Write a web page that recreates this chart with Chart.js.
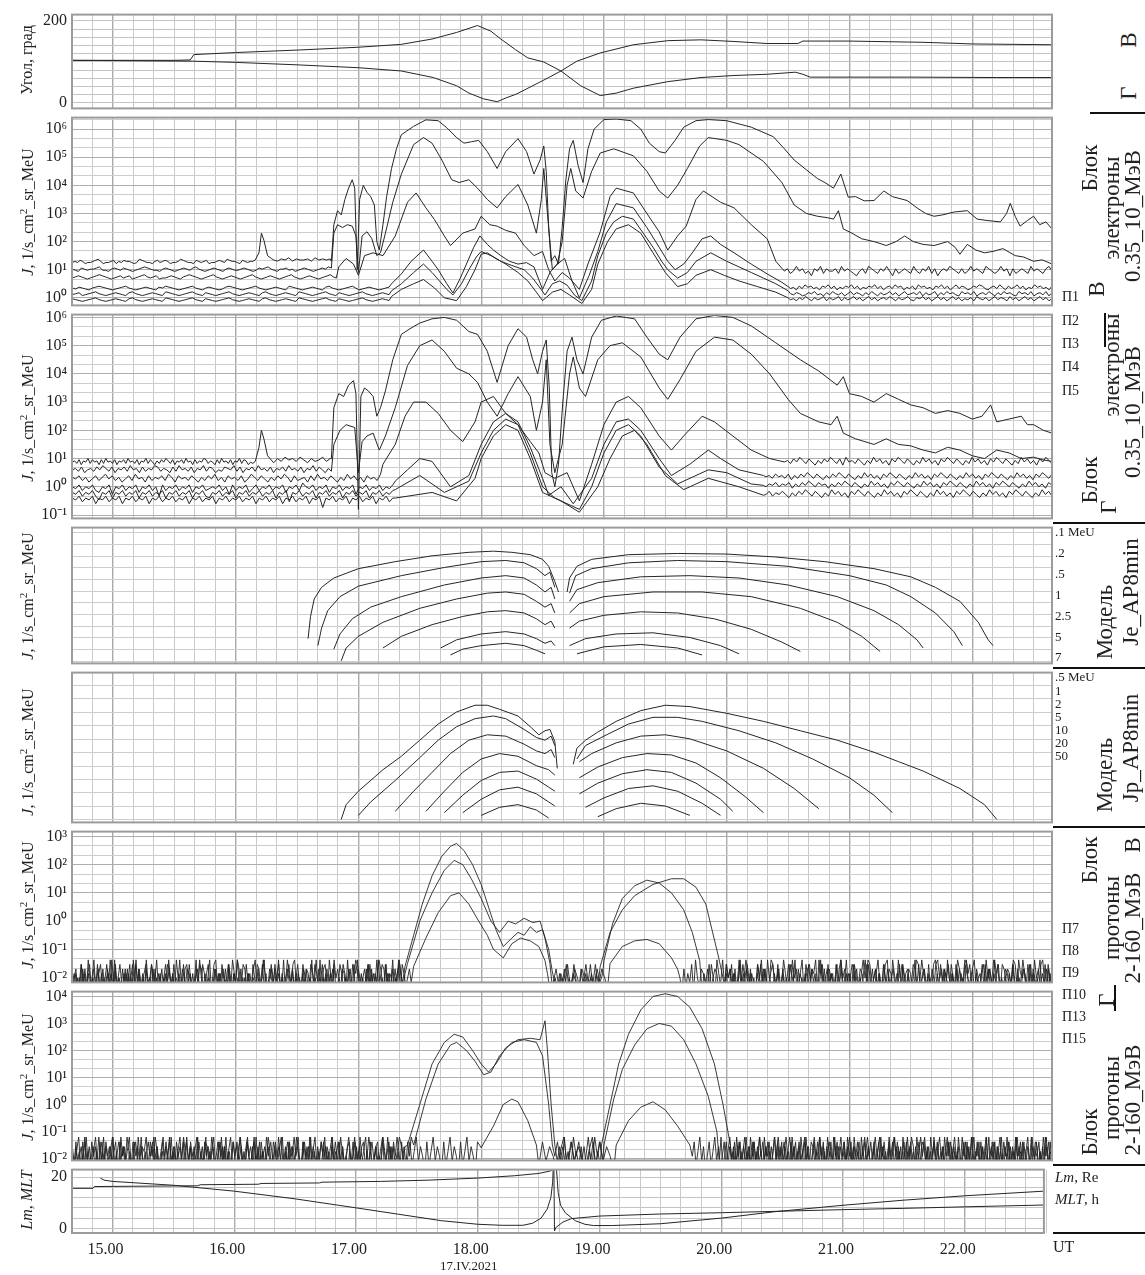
<!DOCTYPE html>
<html>
<head>
<meta charset="utf-8">
<script src="https://cdn.jsdelivr.net/npm/chart.js@4.4.1/dist/chart.umd.min.js"></script>
<style>
body { margin: 0; background: #fff; width: 1145px; height: 1275px; position: relative; overflow: hidden;
       font-family: "Liberation Serif", "Times New Roman", serif; color: #222; }
canvas { position: absolute; left: 0; }
.t { position: absolute; white-space: nowrap; line-height: 1; }
.r { transform: translate(-50%, -50%) rotate(-90deg); }
.big { font-size: 23px; }
.bar { position: absolute; background: #111; }
</style>
</head>
<body>
<script>
// ---- x range (UT hours) ----
const X_MIN = 14.667, X_MAX = 22.65;

// ---- panel 1: angles, degrees ----
const angB = [[14.67,104],[15.5,104],[15.63,105],[15.66,118],[16.0,123],[16.5,129],[17.0,136],[17.35,143],[17.6,156],[17.8,172],[17.97,189],[18.08,175],[18.16,156],[18.28,130],[18.38,110],[18.51,100],[18.65,78],[18.81,42],[18.97,18],[19.1,24],[19.24,36],[19.52,52],[19.79,62],[20.06,67],[20.33,70],[20.56,75],[20.62,70],[20.68,63],[21.5,63],[22.2,62],[22.65,62]];
const angG = [[14.67,104],[15.65,102],[16.0,99],[16.5,93],[17.0,86],[17.35,78],[17.61,62],[17.8,42],[17.9,24],[18.02,10],[18.13,3],[18.2,12],[18.29,22],[18.42,42],[18.55,62],[18.65,78],[18.78,102],[18.97,122],[19.24,142],[19.52,152],[19.79,154],[20.06,150],[20.33,145],[20.58,145],[20.62,151],[21.0,151],[21.6,148],[22.0,144],[22.65,142]];

// ---- panel 2: electrons, block В (log10 J); noise parts: t = [from, to], v = [lo, hi], digits 0..9 ----
const e2c1 = [
  { t: [14.67, 16.14], v: [1.1, 1.45], s: "45465344567534456354655434765443564565344576544365456344565476554365455" },
  [[16.16,1.35],[16.19,1.6],[16.21,2.3],[16.23,2.05],[16.26,1.5],[16.29,1.4]],
  { t: [16.31, 16.77], v: [1.15, 1.5], s: "5465746556475656" },
  [[16.78,1.3],[16.8,2.6],[16.83,3.1],[16.86,2.95],[16.89,3.5],[16.92,3.9],[16.95,4.2],[16.97,3.9],[16.99,1.0],[17.01,3.5],[17.04,4.0],[17.07,3.75],[17.1,3.6],[17.13,3.3],[17.15,2.0],[17.17,1.7],[17.2,2.6],[17.23,3.6],[17.27,4.6],[17.31,5.3],[17.35,5.8],[17.45,6.1],[17.55,6.33],[17.65,6.3],[17.72,6.05],[17.8,5.7],[17.86,5.5],[17.92,5.55],[17.98,5.6],[18.05,5.2],[18.13,4.6],[18.2,5.2],[18.3,5.66],[18.37,5.2],[18.43,4.4],[18.48,4.9],[18.51,5.4],[18.53,4.5],[18.55,2.5],[18.57,1.3],[18.6,1.5],[18.63,1.2],[18.66,2.5],[18.69,4.2],[18.72,5.3],[18.75,5.6],[18.79,4.7],[18.83,4.1],[18.87,5.3],[18.92,6.0],[19.0,6.34],[19.1,6.36],[19.22,6.3],[19.3,6.0],[19.37,5.5],[19.45,5.2],[19.5,5.15],[19.58,5.6],[19.65,6.07],[19.75,6.3],[19.85,6.34],[20.0,6.3],[20.2,6.07],[20.38,5.73],[20.47,5.3],[20.55,4.9],[20.65,4.55],[20.74,4.24],[20.8,4.1],[20.87,3.9],[20.93,4.4],[20.99,3.58],[21.05,3.6],[21.12,3.45],[21.2,3.46],[21.28,3.8],[21.35,3.6],[21.47,3.46],[21.55,3.2],[21.62,3.0],[21.69,2.9],[21.76,2.95],[21.85,3.05],[21.96,3.1],[22.04,2.8],[22.12,2.75],[22.23,2.7],[22.28,3.0],[22.31,3.36],[22.35,2.9],[22.39,2.55],[22.45,2.75],[22.5,2.9],[22.55,2.6],[22.6,2.7],[22.65,2.45]]
];
const e2c2 = [
  { t: [14.67, 16.78], v: [0.82, 1.18], s: "543654556744356546543456765443565434565467543456543565445654346567543556453456543456576" },
  [[16.8,2.3],[16.83,2.6],[16.87,2.5],[16.91,2.6],[16.95,2.55],[16.98,2.2],[17.0,0.9],[17.03,2.2],[17.07,2.35],[17.11,2.1],[17.15,1.5],[17.18,1.6],[17.22,2.3],[17.28,3.4],[17.35,4.4],[17.45,5.45],[17.53,5.7],[17.6,5.5],[17.68,4.9],[17.76,4.2],[17.82,4.1],[17.9,4.2],[17.97,3.9],[18.05,3.5],[18.13,3.2],[18.2,3.6],[18.3,4.03],[18.38,3.3],[18.45,2.3],[18.49,3.5],[18.51,4.6],[18.54,3.0],[18.58,1.0],[18.62,1.2],[18.66,2.0],[18.7,4.0],[18.73,4.6],[18.77,3.8],[18.83,3.55],[18.9,4.5],[18.97,5.15],[19.08,5.3],[19.24,5.05],[19.35,4.5],[19.45,3.8],[19.52,3.55],[19.6,4.0],[19.68,4.6],[19.78,5.4],[19.85,5.7],[20.0,5.6],[20.1,5.45],[20.3,4.85],[20.45,4.1],[20.55,3.3],[20.65,3.0],[20.74,2.9],[20.82,2.85],[20.87,2.8],[20.91,3.1],[20.95,2.45],[21.02,2.3],[21.1,2.1],[21.2,2.0],[21.3,1.86],[21.38,2.0],[21.45,2.2],[21.52,2.0],[21.6,1.9],[21.69,1.86],[21.8,2.0],[21.86,1.8],[21.9,1.55],[21.96,1.9],[22.03,1.7],[22.1,1.6],[22.17,1.65],[22.25,1.75],[22.35,1.5],[22.42,1.45],[22.5,1.3],[22.57,1.35],[22.65,1.2]]
];
const e2c3 = [
  { t: [14.67, 16.82], v: [0.55, 0.9], s: "45654345676543456456345675456344565435676543456754345654345675434565434567543456543456754" },
  [[16.84,1.1],[16.9,1.4],[16.96,1.2],[17.0,0.8],[17.05,1.5],[17.12,1.6],[17.2,1.5],[17.3,2.2],[17.4,3.4],[17.47,3.73],[17.55,3.2],[17.62,2.78],[17.7,2.2],[17.75,1.86],[17.85,2.3],[17.95,2.45],[18.0,2.9],[18.07,2.6],[18.13,2.55],[18.2,2.4],[18.28,2.3],[18.35,1.86],[18.43,1.5],[18.5,1.65],[18.55,1.0],[18.6,0.6],[18.66,0.9],[18.72,0.7],[18.8,0.3],[18.87,1.2],[18.97,2.35],[19.05,3.6],[19.1,3.9],[19.24,3.73],[19.35,3.0],[19.45,2.35],[19.52,1.7],[19.6,2.2],[19.67,2.55],[19.75,3.5],[19.81,3.8],[19.95,3.4],[20.06,3.2],[20.2,2.6],[20.33,2.1],[20.4,1.3],[20.45,1.05]],
  { t: [20.47, 22.65], v: [0.45, 1.2], s: "675686756476857667586765467587657686475676586576857467687657568676587656867475676586765786" }
];
const e2c4 = [
  { t: [14.67, 17.25], v: [0.18, 0.48], s: "546543567654345675434565436576543456754356543467654345675434565437654345654367543456753456543456" },
  [[17.27,0.5],[17.35,0.85],[17.43,1.3],[17.53,1.7],[17.6,1.3],[17.65,1.0],[17.72,0.5],[17.77,0.17],[17.83,0.7],[17.88,1.2],[17.94,1.8],[17.99,2.2],[18.05,1.9],[18.1,1.7],[18.16,1.5],[18.23,1.3],[18.3,1.2],[18.37,1.25],[18.43,1.1],[18.5,0.3],[18.56,0.9],[18.62,1.2],[18.68,1.4],[18.74,0.6],[18.8,0.0],[18.88,0.8],[18.95,1.65],[19.02,2.7],[19.1,3.35],[19.24,3.2],[19.35,2.5],[19.45,1.8],[19.52,1.3],[19.58,1.0],[19.65,1.2],[19.72,1.6],[19.8,2.1],[19.87,2.2],[19.95,1.9],[20.06,1.6],[20.2,1.2],[20.33,0.85],[20.45,0.55],[20.5,0.4]],
  { t: [20.52, 22.65], v: [0.15, 0.55], s: "4536475645365746354657463546574635647563546375645365746357465346576435647536457463547564536" }
];
const e2c5 = [
  { t: [14.67, 17.25], v: [-0.02, 0.28], s: "456345675434565436754345654376543456754365434567543456543675434565437654345675436543456754345654" },
  [[17.27,0.25],[17.35,0.5],[17.45,0.9],[17.53,1.2],[17.6,0.9],[17.65,0.65],[17.72,0.3],[17.77,0.1],[17.84,0.5],[17.9,1.0],[17.96,1.45],[18.0,1.65],[18.08,1.5],[18.16,1.3],[18.25,1.15],[18.35,1.0],[18.42,0.7],[18.48,0.35],[18.52,0.1],[18.58,0.5],[18.64,0.6],[18.7,0.45],[18.76,0.1],[18.82,-0.1],[18.9,0.6],[18.95,1.5],[19.02,2.3],[19.08,2.7],[19.15,2.9],[19.24,2.8],[19.32,2.3],[19.4,1.8],[19.47,1.3],[19.52,1.0],[19.6,0.7],[19.68,0.9],[19.75,1.3],[19.87,1.6],[20.0,1.3],[20.1,1.1],[20.2,0.9],[20.3,0.7],[20.4,0.5],[20.5,0.25]],
  { t: [20.52, 22.65], v: [-0.05, 0.3], s: "5465346574536475463574653647536457463574564736457364756437564735647536475643756473564736" }
];
const e2c6 = [
  { t: [14.67, 17.25], v: [-0.22, 0.06], s: "654345675434565436754345654376543456754365434567543456543675434565437654345675436543456754345654" },
  [[17.27,0.05],[17.35,0.3],[17.45,0.5],[17.53,0.65],[17.62,0.35],[17.7,0.0],[17.8,-0.1],[17.88,0.4],[17.95,1.0],[18.0,1.55],[18.05,1.6],[18.12,1.4],[18.2,1.2],[18.3,0.9],[18.38,0.6],[18.45,0.2],[18.5,-0.1],[18.58,0.2],[18.65,0.3],[18.72,0.1],[18.82,-0.2],[18.9,0.3],[18.95,1.2],[19.03,2.0],[19.1,2.45],[19.2,2.6],[19.3,2.3],[19.4,1.6],[19.5,0.9],[19.6,0.4],[19.68,0.5],[19.75,0.8],[19.87,1.0],[19.98,0.8],[20.1,0.6],[20.25,0.4],[20.4,0.2],[20.5,0.0]],
  { t: [20.52, 22.65], v: [-0.22, 0.12], s: "4536475364573645736457463574635647536457436574635746357463546375463574653746357463574635" }
];

// ---- panel 3: electrons, block Г (log10 J) ----
const e3c1 = [
  { t: [14.67, 16.14], v: [0.65, 1.05], s: "5647365847563748564736574856473658475364758647365748563746587465374856473658476354" },
  [[16.16,0.9],[16.19,1.4],[16.21,2.0],[16.23,1.7],[16.26,1.1],[16.29,0.95]],
  { t: [16.31, 16.77], v: [0.65, 1.1], s: "4758675864756857" },
  [[16.78,1.0],[16.8,2.8],[16.84,3.3],[16.88,3.2],[16.92,3.6],[16.96,3.76],[16.98,3.3],[17.0,-0.8],[17.02,3.2],[17.05,3.5],[17.08,3.4],[17.12,3.2],[17.15,2.5],[17.18,2.8],[17.22,3.4],[17.28,4.5],[17.35,5.4],[17.42,5.6],[17.5,5.8],[17.6,5.95],[17.7,6.0],[17.8,5.9],[17.9,5.5],[17.97,5.4],[18.05,4.8],[18.13,3.7],[18.22,5.0],[18.3,5.6],[18.37,5.3],[18.42,4.5],[18.46,4.0],[18.5,4.8],[18.53,5.2],[18.555,3.5],[18.575,0.5],[18.6,0.0],[18.63,0.8],[18.665,3.0],[18.7,4.8],[18.74,5.3],[18.78,4.5],[18.83,4.0],[18.9,5.3],[18.98,5.9],[19.1,6.05],[19.25,5.95],[19.35,5.3],[19.45,4.7],[19.52,4.5],[19.62,5.3],[19.75,5.95],[19.9,6.07],[20.05,6.0],[20.2,5.7],[20.4,5.1],[20.6,4.5],[20.75,4.1],[20.9,3.6],[20.95,3.9],[21.0,3.3],[21.1,3.2],[21.2,3.0],[21.3,3.3],[21.4,3.1],[21.5,2.9],[21.6,2.8],[21.7,2.6],[21.8,2.7],[21.9,2.6],[22.0,2.4],[22.08,2.5],[22.15,2.9],[22.2,2.3],[22.3,2.4],[22.4,2.5],[22.45,2.2],[22.5,2.2],[22.58,2.0],[22.65,1.9]]
];
const e3c2 = [
  { t: [14.67, 16.78], v: [0.35, 0.8], s: "56473564758647365748563746587465374856473658476354765847365748564736574856473658475364" },
  [[16.8,1.5],[16.85,2.0],[16.9,2.2],[16.97,2.1],[17.0,0.5],[17.03,1.6],[17.07,1.8],[17.12,1.9],[17.17,1.3],[17.22,1.8],[17.3,2.8],[17.4,4.3],[17.5,5.0],[17.6,5.2],[17.7,4.8],[17.8,4.2],[17.9,4.0],[17.97,3.7],[18.05,3.0],[18.13,2.5],[18.22,3.3],[18.3,3.9],[18.4,3.2],[18.45,2.0],[18.5,3.0],[18.53,4.5],[18.56,1.5],[18.6,0.5],[18.66,1.5],[18.72,4.0],[18.75,4.6],[18.8,3.5],[18.85,3.2],[18.95,4.5],[19.05,5.0],[19.15,5.1],[19.3,4.6],[19.45,3.5],[19.52,3.1],[19.62,3.8],[19.75,4.8],[19.9,5.3],[20.05,5.2],[20.2,4.7],[20.35,4.0],[20.5,3.1],[20.6,2.6],[20.75,2.3],[20.85,2.2],[20.9,2.5],[20.95,1.9],[21.05,1.7],[21.2,1.5],[21.3,1.7],[21.4,1.5],[21.5,1.45],[21.6,1.3],[21.7,1.2],[21.8,1.4],[21.9,1.3],[22.0,1.1],[22.1,1.0],[22.2,1.3],[22.3,1.2],[22.4,1.0],[22.5,1.05],[22.58,0.95],[22.65,0.9]]
];
const e3c3 = [
  { t: [14.67, 17.18], v: [0.0, 0.5], s: "6574635746857463574856374657486375647536475846375647358647536475863745637485647536485746375648" },
  [[17.2,0.8],[17.3,1.5],[17.38,2.5],[17.45,3.0],[17.55,3.0],[17.65,2.6],[17.75,2.0],[17.85,1.6],[17.95,2.3],[18.0,3.0],[18.1,3.2],[18.2,2.6],[18.3,2.2],[18.4,1.6],[18.47,1.2],[18.52,0.5],[18.6,0.3],[18.7,0.5],[18.8,-0.5],[18.9,0.8],[19.0,2.2],[19.1,3.0],[19.2,3.2],[19.3,2.8],[19.45,1.8],[19.55,1.3],[19.65,1.8],[19.8,2.5],[19.9,2.3],[20.05,1.8],[20.2,1.3],[20.35,1.0],[20.45,0.9]],
  { t: [20.47, 22.65], v: [0.6, 1.1], s: "5647586475364758647385647536485746375864753648574637586475364857463758647536485746375864" }
];
const e3c4 = [
  { t: [14.67, 17.28], v: [-0.4, 0.2], s: "6574657436572657465736574617465746573657456574627465735746574657365748657465736574657265746574657" },
  [[17.3,0.2],[17.4,0.6],[17.5,1.0],[17.6,0.9],[17.75,0.0],[17.9,0.4],[18.0,1.5],[18.1,2.3],[18.2,2.6],[18.3,2.3],[18.4,1.4],[18.5,0.3],[18.55,-0.3],[18.65,0.0],[18.75,-0.6],[18.9,0.3],[19.0,1.5],[19.1,2.3],[19.2,2.4],[19.3,2.0],[19.45,1.0],[19.55,0.4],[19.7,0.8],[19.85,1.3],[19.95,1.0],[20.1,0.6],[20.3,0.4]],
  { t: [20.32, 22.65], v: [0.1, 0.55], s: "5647564736475864753647586475364857463758647536485746375864753648574637586475364857463758647" }
];
const e3c5 = [
  { t: [14.67, 17.28], v: [-0.6, 0.0], s: "6574657426573657465736574657365746573657436574657365746574657365716574657365746573657465736574657" },
  [[17.3,-0.1],[17.5,0.4],[17.7,-0.2],[17.9,0.2],[18.0,1.2],[18.1,2.0],[18.2,2.4],[18.3,2.2],[18.4,1.2],[18.5,0.0],[18.6,-0.4],[18.8,-0.8],[18.9,0.0],[19.0,1.2],[19.1,2.0],[19.2,2.2],[19.3,1.8],[19.45,0.7],[19.6,0.1],[19.85,0.6],[20.0,0.5],[20.2,0.1],[20.3,0.05]],
  { t: [20.32, 22.65], v: [-0.2, 0.25], s: "4657465736475864756364758647536485746375864753648574637586475364857463758647536485746375" }
];
const e3c6 = [
  { t: [14.67, 17.28], v: [-0.8, -0.2], s: "6574657365746573657465736574657465736574657365746574657365746573657465736571657465736574657365746" },
  [[17.3,-0.4],[17.6,-0.2],[17.8,-0.5],[17.95,0.3],[18.0,1.0],[18.1,1.8],[18.2,2.2],[18.3,2.0],[18.4,1.0],[18.5,-0.2],[18.65,-0.5],[18.8,-0.9],[18.95,0.0],[19.05,1.0],[19.15,1.8],[19.25,2.0],[19.35,1.5],[19.5,0.4],[19.65,-0.1],[19.85,0.3],[20.1,0.0],[20.3,-0.3]],
  { t: [20.32, 22.65], v: [-0.55, -0.05], s: "5746575364758647536485746375864753648574637586475364857463758647536485746375864753648574" }
];

// ---- panel 4: model Je_AP8min (log10 J), null = gap ----
const je01 = [[16.59,1.6],[16.61,3.5],[16.64,5.0],[16.7,6.0],[16.8,6.8],[17.0,7.6],[17.3,8.2],[17.6,8.7],[17.9,9.0],[18.1,9.1],[18.25,9.0],[18.4,8.8],[18.5,8.4],[18.55,7.8],[18.6,6.5],[18.63,5.6],null,[18.7,5.6],[18.72,6.8],[18.78,7.8],[18.9,8.4],[19.2,8.8],[19.6,8.9],[20.0,8.85],[20.4,8.6],[20.8,8.2],[21.2,7.6],[21.5,6.9],[21.7,6.0],[21.9,4.8],[22.05,3.0],[22.13,1.5],[22.17,1.0]];
const je02 = [[16.67,1.0],[16.7,2.5],[16.75,4.0],[16.85,5.2],[17.0,6.1],[17.35,7.0],[17.7,7.7],[18.0,8.2],[18.2,8.3],[18.35,8.1],[18.45,7.6],[18.52,7.0],[18.56,7.3],[18.6,6.0],null,[18.72,5.5],[18.77,7.0],[18.9,7.6],[19.2,8.1],[19.6,8.3],[20.0,8.2],[20.5,7.8],[21.0,7.0],[21.3,6.2],[21.5,5.2],[21.7,3.8],[21.85,2.2],[21.92,1.0]];
const je05 = [[16.8,0.7],[16.85,2.0],[16.95,3.3],[17.1,4.3],[17.35,5.2],[17.7,6.2],[18.0,6.8],[18.2,7.0],[18.35,6.8],[18.45,6.2],[18.52,5.6],[18.57,6.0],[18.6,5.0],null,[18.72,4.8],[18.78,5.8],[18.95,6.4],[19.3,6.9],[19.7,7.0],[20.1,6.8],[20.5,6.2],[20.9,5.2],[21.2,4.0],[21.4,2.8],[21.55,1.5],[21.6,0.8]];
const je1 = [[16.86,-0.3],[16.9,0.8],[17.0,1.8],[17.2,3.0],[17.5,4.2],[17.8,5.0],[18.05,5.5],[18.2,5.6],[18.35,5.4],[18.45,4.8],[18.52,4.3],[18.57,4.6],[18.6,3.8],null,[18.72,3.8],[18.8,4.6],[19.0,5.2],[19.4,5.6],[19.8,5.6],[20.2,5.2],[20.6,4.2],[20.9,3.0],[21.1,1.8],[21.25,0.5]];
const je25 = [[17.2,0.8],[17.35,1.8],[17.6,2.8],[17.85,3.5],[18.05,3.9],[18.2,4.0],[18.35,3.8],[18.45,3.3],[18.52,2.8],[18.57,3.1],[18.6,2.5],null,[18.72,2.5],[18.8,3.1],[19.0,3.6],[19.3,3.9],[19.6,3.8],[19.9,3.3],[20.2,2.4],[20.45,1.3],[20.6,0.5]];
const je5 = [[17.67,0.8],[17.8,1.5],[18.0,2.0],[18.2,2.2],[18.35,2.0],[18.45,1.6],[18.52,1.2],[18.57,1.4],[18.6,1.0],null,[18.72,1.0],[18.85,1.6],[19.1,2.0],[19.4,2.1],[19.7,1.7],[19.95,1.0],[20.1,0.3]];
const je7 = [[17.75,0.2],[17.85,0.7],[18.0,1.0],[18.2,1.2],[18.35,1.0],[18.45,0.6],[18.52,0.3],null,[18.78,0.3],[19.0,0.9],[19.3,1.1],[19.6,0.8],[19.8,0.2]];

// ---- panel 5: model Jp_AP8min (log10 J) ----
const jp05 = [[16.86,-0.3],[16.9,0.8],[17.0,1.8],[17.2,3.4],[17.35,4.4],[17.5,5.6],[17.65,6.8],[17.8,7.7],[17.95,8.2],[18.05,8.2],[18.15,7.9],[18.3,7.4],[18.4,6.6],[18.47,6.0],[18.52,6.3],[18.56,6.4],[18.6,5.5],[18.62,3.5],null,[18.75,3.8],[18.78,5.0],[18.85,5.6],[18.95,6.2],[19.1,7.0],[19.3,7.8],[19.5,8.2],[19.7,8.1],[20.0,7.6],[20.3,7.0],[20.6,6.3],[20.9,5.6],[21.2,4.7],[21.4,4.0],[21.6,3.3],[21.9,2.0],[22.1,0.8],[22.2,-0.3]];
const jp1 = [[17.0,0.0],[17.1,1.0],[17.3,2.6],[17.5,4.3],[17.65,5.6],[17.8,6.6],[17.95,7.2],[18.1,7.4],[18.2,7.2],[18.35,6.4],[18.45,5.8],[18.52,5.6],[18.57,5.9],[18.6,5.2],null,[18.78,4.2],[18.85,5.2],[19.0,5.9],[19.2,6.8],[19.4,7.3],[19.6,7.3],[19.8,7.0],[20.1,6.3],[20.4,5.4],[20.7,4.2],[21.0,2.8],[21.2,1.5],[21.35,0.2]];
const jp2 = [[17.3,0.3],[17.45,1.8],[17.6,3.2],[17.75,4.6],[17.9,5.6],[18.05,6.0],[18.2,5.9],[18.35,5.3],[18.45,4.8],[18.52,4.6],[18.57,4.9],[18.6,4.3],null,[18.8,4.0],[18.9,4.6],[19.1,5.4],[19.3,5.9],[19.5,6.0],[19.7,5.7],[20.0,4.8],[20.3,3.5],[20.55,2.0],[20.75,0.5]];
const jp5 = [[17.55,0.3],[17.7,1.8],[17.85,3.2],[18.0,4.2],[18.15,4.6],[18.3,4.4],[18.45,3.7],[18.55,3.4],[18.6,3.0],null,[18.8,2.8],[18.95,3.6],[19.15,4.3],[19.35,4.6],[19.55,4.5],[19.75,3.9],[19.95,2.8],[20.15,1.4],[20.3,0.2]];
const jp10 = [[17.7,0.2],[17.85,1.5],[18.0,2.6],[18.15,3.2],[18.3,3.3],[18.45,2.7],[18.55,2.1],[18.6,1.8],null,[18.8,1.6],[18.95,2.4],[19.15,3.1],[19.35,3.4],[19.55,3.2],[19.75,2.4],[19.95,1.2],[20.05,0.3]];
const jp20 = [[17.85,0.2],[18.0,1.2],[18.15,1.9],[18.3,2.1],[18.45,1.6],[18.55,1.0],[18.6,0.7],null,[18.85,0.6],[19.0,1.3],[19.2,2.0],[19.4,2.2],[19.6,1.8],[19.8,0.9],[19.95,0.0]];
const jp50 = [[18.0,0.0],[18.15,0.6],[18.3,0.8],[18.45,0.4],[18.55,-0.2],null,[18.95,-0.1],[19.1,0.5],[19.3,0.9],[19.5,0.7],[19.7,0.0]];

// ---- panel 6: protons, block В (log10 J) ----
const p7 = [
  { t: [14.67, 17.36], v: [-2.5, -1.05], s: "2140315204613025140361720513204150362714031520641302514073162041530261405273104612053140251630427150314206315027401352046130274150362140513206417032514062031540721630514023615042703162405130742" },
  [[17.38,-1.6],[17.45,-0.5],[17.52,0.6],[17.6,1.6],[17.68,2.3],[17.75,2.65],[17.8,2.75],[17.86,2.5],[17.93,2.0],[18.0,1.3],[18.06,0.5],[18.12,-0.3],[18.18,-0.9],[18.25,-0.6],[18.3,-0.4],[18.35,-0.5],[18.4,-0.2],[18.45,-0.4],[18.5,-0.3],[18.55,-1.0],[18.58,-1.8]],
  { t: [18.6, 18.95], v: [-2.5, -1.05], s: "2041503162051403261" },
  [[18.97,-1.6],[19.05,-0.4],[19.15,0.4],[19.25,0.9],[19.4,1.3],[19.55,1.5],[19.65,1.5],[19.75,1.2],[19.83,0.6],[19.88,-0.3],[19.93,-1.2],[19.96,-1.8]],
  { t: [19.97, 22.65], v: [-2.5, -1.05], s: "3140261503724160513042615073204160251306427150314062513074602153406125037140625130471620351402615307412605314026510374206153041625073140625130746120534106251374021653041620513740261530471260513" }
];
const p8 = [
  { t: [14.67, 17.38], v: [-2.5, -1.05], s: "1350261407315204613052417036215041306251407236150421306514032710562401352064137025140632051740321650412306514702361504217036251403162540713052614073502164031520647103526140271365041270356214" },
  [[17.4,-1.5],[17.5,0.0],[17.6,1.0],[17.7,1.8],[17.78,2.15],[17.85,2.0],[17.92,1.5],[18.0,0.8],[18.08,0.0],[18.15,-0.4],[18.22,0.0],[18.28,-0.1],[18.35,0.1],[18.42,-0.05],[18.48,0.0],[18.52,-0.6],[18.56,-1.5]],
  { t: [18.58, 18.99], v: [-2.5, -1.05], s: "1304260153026140524" },
  [[19.0,-1.4],[19.07,-0.1],[19.15,0.8],[19.25,1.25],[19.35,1.45],[19.45,1.35],[19.55,1.0],[19.65,0.4],[19.72,-0.4],[19.78,-1.4]],
  { t: [19.8, 22.65], v: [-2.5, -1.05], s: "0425163074120635140271635041206371520463150274136502147035612403715062413057214036512047361250472163054120736145203716045213067410253614027531642057130462153074612035416207435162041306725140" }
];
const p9 = [
  { t: [14.67, 17.43], v: [-2.5, -1.05], s: "2413062514037162051340726130514260731502461305271403625140732061543027165041302671405236104275130624157032614053162704135206714025310642713056204173520641350276413052614037521604315270641352" },
  [[17.45,-1.6],[17.55,-0.6],[17.65,0.3],[17.75,0.9],[17.82,1.0],[17.9,0.6],[17.98,0.0],[18.05,-0.5],[18.1,-1.0],[18.18,-1.3],[18.25,-0.8],[18.32,-0.6],[18.4,-0.7],[18.47,-0.9],[18.52,-1.4]],
  { t: [18.54, 19.03], v: [-2.5, -1.05], s: "4025130614205316042531" },
  [[19.05,-1.5],[19.15,-0.9],[19.25,-0.7],[19.35,-0.65],[19.45,-0.8],[19.55,-1.3],[19.6,-1.7]],
  { t: [19.62, 22.65], v: [-2.5, -1.05], s: "3051426073154206135402716350412603751420631540276135041260735142063154702613504126073514206315402761350412670351420631540276135041206735142063150427613504126073514260315402761305412607351420631" }
];

// ---- panel 7: protons, block Г (log10 J) ----
const p10 = [
  { t: [14.67, 17.38], v: [-2.45, -0.85], s: "3152406172035140627103524601735204162073514026370512406317250413607251402635170425136072514036215704263150726041352064173025160473520614072531402615307241605130426150732041602513064271503140625" },
  [[17.4,-1.5],[17.5,0.0],[17.6,1.5],[17.7,2.3],[17.78,2.6],[17.85,2.5],[17.93,2.0],[18.0,1.5],[18.06,1.2],[18.12,1.5],[18.2,2.1],[18.3,2.4],[18.4,2.45],[18.48,2.4],[18.52,3.1],[18.54,2.0],[18.57,0.0],[18.6,-1.5]],
  { t: [18.62, 18.97], v: [-2.45, -0.85], s: "2517036241503726141" },
  [[18.98,-1.5],[19.05,0.0],[19.12,1.5],[19.2,2.6],[19.3,3.5],[19.4,4.0],[19.5,4.1],[19.6,4.0],[19.7,3.6],[19.8,2.8],[19.9,1.5],[19.97,0.0],[20.03,-1.5]],
  { t: [20.05, 22.65], v: [-2.45, -0.85], s: "0625140372516041736250413726051473062514073625104736251407362051473625041736205147362504173620514736250417362051473625041736205147362514027361504726315042716305142637150427361540217365041273615" }
];
const p13 = [
  { t: [14.67, 17.43], v: [-2.45, -0.85], s: "4061352704163527140635271406352740163527104635274016352714063527401635271406352740163527140635274016352714063527401635271406352740163527140526371405263174025613704256137402561374025163740251637" },
  [[17.45,-1.5],[17.55,0.2],[17.65,1.5],[17.75,2.2],[17.8,2.3],[17.88,2.0],[17.95,1.6],[18.02,1.1],[18.08,1.2],[18.15,1.8],[18.25,2.3],[18.35,2.4],[18.45,2.3],[18.5,1.8],[18.55,0.0],[18.58,-1.5]],
  { t: [18.6, 18.99], v: [-2.45, -0.85], s: "3625140736250417362" },
  [[19.0,-1.5],[19.08,0.2],[19.15,1.3],[19.25,2.2],[19.35,2.8],[19.45,3.0],[19.55,2.9],[19.65,2.4],[19.75,1.5],[19.85,0.3],[19.92,-1.0]],
  { t: [19.94, 22.65], v: [-2.45, -0.85], s: "2703615240736152407361524073615204736152407361524073165240736152407361524073615240736152047361524073615240736152407316524073615240736152407315260471352604713526047135260417352604713526041735260" }
];
const p15 = [
  { t: [14.67, 17.97], v: [-2.45, -0.85], s: "5147036251470362514703625147036215470362514703625147036251470326514703625147036251470362514073625147036251470362514703625147036251470362514703625147036251475203614725306147253061472530614725306" },
  [[18.0,-1.6],[18.1,-0.8],[18.18,0.0],[18.25,0.2],[18.3,0.1],[18.38,-0.6],[18.45,-1.5]],
  { t: [18.47, 19.08], v: [-2.45, -0.85], s: "1625304716253047162530" },
  [[19.1,-1.5],[19.2,-0.6],[19.3,-0.1],[19.4,0.1],[19.5,-0.2],[19.6,-0.8],[19.7,-1.5]],
  { t: [19.72, 22.65], v: [-2.45, -0.85], s: "3614725036147250361472503614725036147205361472503614725036147250361472503641725036147250361472503614725036147250361427503614725036147250361472503615270436152704361527043615270436152704361527043" }
];

// ---- panel 8: Lm (Re) and MLT (h) ----
const lmCurve = [[14.9,19.6],[14.93,18.8],[15.0,18.3],[15.5,16.8],[16.0,14.5],[16.5,11.5],[17.0,8.0],[17.35,5.5],[17.7,3.0],[18.0,1.6],[18.2,1.2],[18.37,1.2],[18.45,2.0],[18.52,4.0],[18.57,7.5],[18.6,12.0],[18.615,18.0],[18.62,24.0],null,[18.645,24.0],[18.66,14.0],[18.68,9.0],[18.72,6.0],[18.8,3.0],[18.88,1.6],[18.95,1.1],[19.1,1.1],[19.5,1.8],[20.0,4.0],[20.44,6.5],[21.0,9.0],[21.5,11.0],[22.0,12.7],[22.65,14.5]];
const mltCurve = [[14.67,15.6],[14.84,15.6],[14.85,16.3],[15.7,16.6],[15.72,17.0],[16.2,17.2],[16.22,17.5],[16.7,17.7],[16.72,18.0],[17.2,18.3],[17.6,18.8],[18.0,19.6],[18.3,20.5],[18.5,21.4],[18.6,22.4],[18.625,23.5],[18.63,-1.0],[18.64,0.3],[18.7,2.5],[18.77,3.8],[19.0,4.8],[19.5,5.6],[20.0,6.1],[20.5,6.7],[21.0,7.3],[21.5,7.8],[22.0,8.4],[22.65,9.1]];

// ---- build helpers ----
function build(parts, isLog) {
  const out = [];
  const conv = v => isLog ? Math.pow(10, v) : v;
  const pushPt = p => {
    if (p === null) { out.push({ x: out[out.length - 1].x + 0.001, y: null }); return; }
    out.push({ x: p[0], y: conv(p[1]) });
  };
  parts.forEach(part => {
    if (part === null || Array.isArray(part) && typeof part[0] === 'number') { pushPt(part); return; }
    if (Array.isArray(part)) { part.forEach(pushPt); return; }
    const n = part.s.length;
    for (let i = 0; i < n; i++) {
      const t = part.t[0] + (part.t[1] - part.t[0]) * i / (n - 1);
      const v = part.v[0] + (part.v[1] - part.v[0]) * (+part.s[i]) / 9;
      out.push({ x: t, y: conv(v) });
    }
  });
  return out;
}

const SUP = { '-': '\u207B', '0': '\u2070', '1': '\u00B9', '2': '\u00B2', '3': '\u00B3', '4': '\u2074', '5': '\u2075', '6': '\u2076', '7': '\u2077', '8': '\u2078', '9': '\u2079' };
const sup = n => String(n).split('').map(c => SUP[c]).join('');

const PANELS = [
  { top: 10, bottom: 113, log: false, min: -13.3, max: 215.6, gridStep: 20, gridFrom: -20, labels: [0, 200], series: [angB, angG] },
  { top: 113, bottom: 310, log: true, min: -0.27, max: 6.41, gridStep: 1 / 3, labels: [0, 1, 2, 3, 4, 5, 6], series: [e2c1, e2c2, e2c3, e2c4, e2c5, e2c6] },
  { top: 310, bottom: 523, log: true, min: -1.12, max: 6.1, gridStep: 1 / 3, labels: [-1, 0, 1, 2, 3, 4, 5, 6], series: [e3c1, e3c2, e3c3, e3c4, e3c5, e3c6] },
  { top: 523, bottom: 668, log: true, min: -0.48, max: 11.12, gridStep: 1, labels: [0, 5, 10], series: [je01, je02, je05, je1, je25, je5, je7] },
  { top: 668, bottom: 827, log: true, min: -0.49, max: 10.63, gridStep: 1, labels: [0, 5, 10], series: [jp05, jp1, jp2, jp5, jp10, jp20, jp50] },
  { top: 827, bottom: 987, log: true, min: -2.17, max: 3.17, gridStep: 1 / 3, labels: [-2, -1, 0, 1, 2, 3], series: [p7, p8, p9], lw: 0.9 },
  { top: 987, bottom: 1165, log: true, min: -2.07, max: 4.18, gridStep: 1 / 3, labels: [-2, -1, 0, 1, 2, 3, 4], series: [p10, p13, p15], lw: 0.9 },
  { top: 1165, bottom: 1233, log: false, min: -1.8, max: 22.9, gridStep: 4, gridFrom: 0, labels: [0, 20], series: [lmCurve, mltCurve], last: true }
];

const xGrid = [];
for (let k = 0; k <= 48; k++) xGrid.push(X_MIN + k / 6);
const isHour = v => Math.abs(v - Math.round(v)) < 1e-3;

const frame = {
  id: 'frame',
  afterDraw(chart) {
    const a = chart.chartArea, c = chart.ctx;
    c.save();
    c.strokeStyle = '#9c9c9c';
    c.lineWidth = 2;
    c.strokeRect(a.left, a.top, a.right - a.left, a.bottom - a.top);
    c.restore();
  }
};

PANELS.forEach(p => {
  const padTop = 10, axisH = p.last ? 40 : 0, padBot = p.last ? 0 : 10;
  const cv = document.createElement('canvas');
  cv.width = 1053;
  cv.height = (p.bottom - p.top) + padTop + padBot + axisH;
  cv.style.top = (p.top - padTop) + 'px';
  document.body.appendChild(cv);

  const yGrid = [];
  if (p.log) {
    for (let e = Math.ceil(p.min * 3) / 3; e <= p.max + 1e-9; e += p.gridStep) yGrid.push(Math.pow(10, e));
  } else {
    for (let v = p.gridFrom; v <= p.max; v += p.gridStep) if (v >= p.min) yGrid.push(v);
  }

  new Chart(cv, {
    type: 'line',
    data: {
      datasets: p.series.map(s => ({
        data: build(s, p.log),
        borderColor: '#262626',
        borderWidth: p.lw || 1,
        pointRadius: 0,
        tension: 0,
        fill: false,
        spanGaps: false
      }))
    },
    options: {
      responsive: false,
      animation: false,
      events: [],
      layout: { padding: { left: 0, right: 1, top: padTop, bottom: padBot } },
      plugins: { legend: { display: false }, tooltip: { enabled: false } },
      scales: {
        x: {
          type: 'linear', min: X_MIN, max: X_MAX,
          afterBuildTicks: s => { s.ticks = xGrid.map(v => ({ value: v })); },
          afterFit: s => { s.height = axisH; },
          ticks: {
            display: !!p.last, autoSkip: false, maxRotation: 0, padding: 7, labelOffset: -7,
            color: '#222', font: { family: 'Liberation Serif', size: 16 },
            callback: v => (p.last && isHour(v)) ? Math.round(v) + '.00' : ''
          },
          grid: {
            drawTicks: false,
            color: c => (c.tick && isHour(c.tick.value)) ? '#a9a9a9' : '#c9c9c9',
            lineWidth: c => (c.tick && isHour(c.tick.value)) ? 1.4 : 1
          },
          border: { display: false }
        },
        y: {
          type: p.log ? 'logarithmic' : 'linear',
          min: p.log ? Math.pow(10, p.min) : p.min,
          max: p.log ? Math.pow(10, p.max) : p.max,
          afterBuildTicks: s => { s.ticks = yGrid.map(v => ({ value: v })); },
          afterFit: s => { s.width = 72; },
          ticks: {
            autoSkip: false, padding: 5, color: '#222',
            font: { family: 'Liberation Serif', size: 16 },
            callback: v => {
              if (p.log) {
                const e = Math.log10(v), r = Math.round(e);
                return (Math.abs(e - r) < 1e-6 && p.labels.includes(r)) ? '10' + sup(r) : '';
              }
              return p.labels.includes(Math.round(v)) && Math.abs(v - Math.round(v)) < 1e-6 ? String(Math.round(v)) : '';
            }
          },
          grid: {
            drawTicks: false,
            color: c => {
              if (!c.tick) return '#c9c9c9';
              if (p.log) { const e = Math.log10(c.tick.value); return Math.abs(e - Math.round(e)) < 1e-6 ? '#adadad' : '#cdcdcd'; }
              return '#c4c4c4';
            }
          },
          border: { display: false }
        }
      }
    },
    plugins: [frame]
  });
});
</script>

<!-- y axis titles -->
<div class="t r" style="left:27px;top:60px;font-size:16px">Угол, град</div>
<div class="t r" style="left:27px;top:212px;font-size:16px"><i>J</i>, 1/s_cm<sup style="font-size:11px">2</sup>_sr_MeU</div>
<div class="t r" style="left:27px;top:418px;font-size:16px"><i>J</i>, 1/s_cm<sup style="font-size:11px">2</sup>_sr_MeU</div>
<div class="t r" style="left:27px;top:596px;font-size:16px"><i>J</i>, 1/s_cm<sup style="font-size:11px">2</sup>_sr_MeU</div>
<div class="t r" style="left:27px;top:752px;font-size:16px"><i>J</i>, 1/s_cm<sup style="font-size:11px">2</sup>_sr_MeU</div>
<div class="t r" style="left:27px;top:905px;font-size:16px"><i>J</i>, 1/s_cm<sup style="font-size:11px">2</sup>_sr_MeU</div>
<div class="t r" style="left:27px;top:1077px;font-size:16px"><i>J</i>, 1/s_cm<sup style="font-size:11px">2</sup>_sr_MeU</div>
<div class="t r" style="left:27px;top:1200px;font-size:16px"><i>Lm</i>, <i>MLT</i></div>

<!-- x axis extras -->
<div class="t" style="left:1053px;top:1239px;font-size:16px">UT</div>
<div class="t" style="left:440px;top:1259px;font-size:13px">17.IV.2021</div>

<!-- right column -->
<div class="t r big" style="left:1128px;top:93px">Г</div>
<div class="t r big" style="left:1128px;top:40px">В</div>
<div class="bar" style="left:1090px;top:112px;width:55px;height:2px"></div>

<div class="t r big" style="left:1089px;top:168px">Блок</div>
<div class="t r big" style="left:1111px;top:208px">электроны</div>
<div class="t r big" style="left:1132px;top:216px">0.35_10_МэВ</div>
<div class="t r big" style="left:1096px;top:289px">В</div>
<div class="bar" style="left:1104px;top:313px;width:2px;height:34px"></div>

<div class="t" style="left:1062px;top:290px;font-size:14px">П1</div>
<div class="t" style="left:1062px;top:314px;font-size:14px">П2</div>
<div class="t" style="left:1062px;top:337px;font-size:14px">П3</div>
<div class="t" style="left:1062px;top:360px;font-size:14px">П4</div>
<div class="t" style="left:1062px;top:384px;font-size:14px">П5</div>

<div class="t r big" style="left:1111px;top:365px">электроны</div>
<div class="t r big" style="left:1132px;top:412px">0.35_10_МэВ</div>
<div class="t r big" style="left:1089px;top:480px">Блок</div>
<div class="t r big" style="left:1108px;top:507px">Г</div>
<div class="bar" style="left:1053px;top:522px;width:92px;height:2px"></div>

<div class="t" style="left:1055px;top:525px;font-size:13px">.1 MeU</div>
<div class="t" style="left:1055px;top:546px;font-size:13px">.2</div>
<div class="t" style="left:1055px;top:567px;font-size:13px">.5</div>
<div class="t" style="left:1055px;top:588px;font-size:13px">1</div>
<div class="t" style="left:1055px;top:609px;font-size:13px">2.5</div>
<div class="t" style="left:1055px;top:630px;font-size:13px">5</div>
<div class="t" style="left:1055px;top:650px;font-size:13px">7</div>
<div class="t r big" style="left:1104px;top:622px">Модель</div>
<div class="t r big" style="left:1130px;top:592px">Je_AP8min</div>
<div class="bar" style="left:1053px;top:667px;width:92px;height:2px"></div>

<div class="t" style="left:1055px;top:670px;font-size:13px">.5 MeU</div>
<div class="t" style="left:1055px;top:684px;font-size:13px">1</div>
<div class="t" style="left:1055px;top:697px;font-size:13px">2</div>
<div class="t" style="left:1055px;top:710px;font-size:13px">5</div>
<div class="t" style="left:1055px;top:723px;font-size:13px">10</div>
<div class="t" style="left:1055px;top:736px;font-size:13px">20</div>
<div class="t" style="left:1055px;top:749px;font-size:13px">50</div>
<div class="t r big" style="left:1104px;top:775px">Модель</div>
<div class="t r big" style="left:1130px;top:748px">Jp_AP8min</div>
<div class="bar" style="left:1053px;top:826px;width:92px;height:2px"></div>

<div class="t r big" style="left:1089px;top:860px">Блок</div>
<div class="t r big" style="left:1132px;top:845px">В</div>
<div class="t r big" style="left:1111px;top:918px">протоны</div>
<div class="t r big" style="left:1132px;top:928px">2-160_МэВ</div>
<div class="t" style="left:1062px;top:922px;font-size:14px">П7</div>
<div class="t" style="left:1062px;top:944px;font-size:14px">П8</div>
<div class="t" style="left:1062px;top:966px;font-size:14px">П9</div>

<div class="t" style="left:1062px;top:988px;font-size:14px">П10</div>
<div class="t" style="left:1062px;top:1010px;font-size:14px">П13</div>
<div class="t" style="left:1062px;top:1032px;font-size:14px">П15</div>
<div class="t r big" style="left:1106px;top:1000px">Г</div>
<div class="bar" style="left:1114px;top:985px;width:2px;height:26px"></div>
<div class="t r big" style="left:1089px;top:1132px">Блок</div>
<div class="t r big" style="left:1111px;top:1098px">протоны</div>
<div class="t r big" style="left:1132px;top:1100px">2-160_МэВ</div>
<div class="bar" style="left:1053px;top:1164px;width:92px;height:2px"></div>

<div class="t" style="left:1055px;top:1170px;font-size:15px"><i>Lm</i>, Re</div>
<div class="t" style="left:1055px;top:1192px;font-size:15px"><i>MLT</i>, h</div>
<div class="bar" style="left:1053px;top:1232px;width:92px;height:2px"></div>
</body>
</html>
